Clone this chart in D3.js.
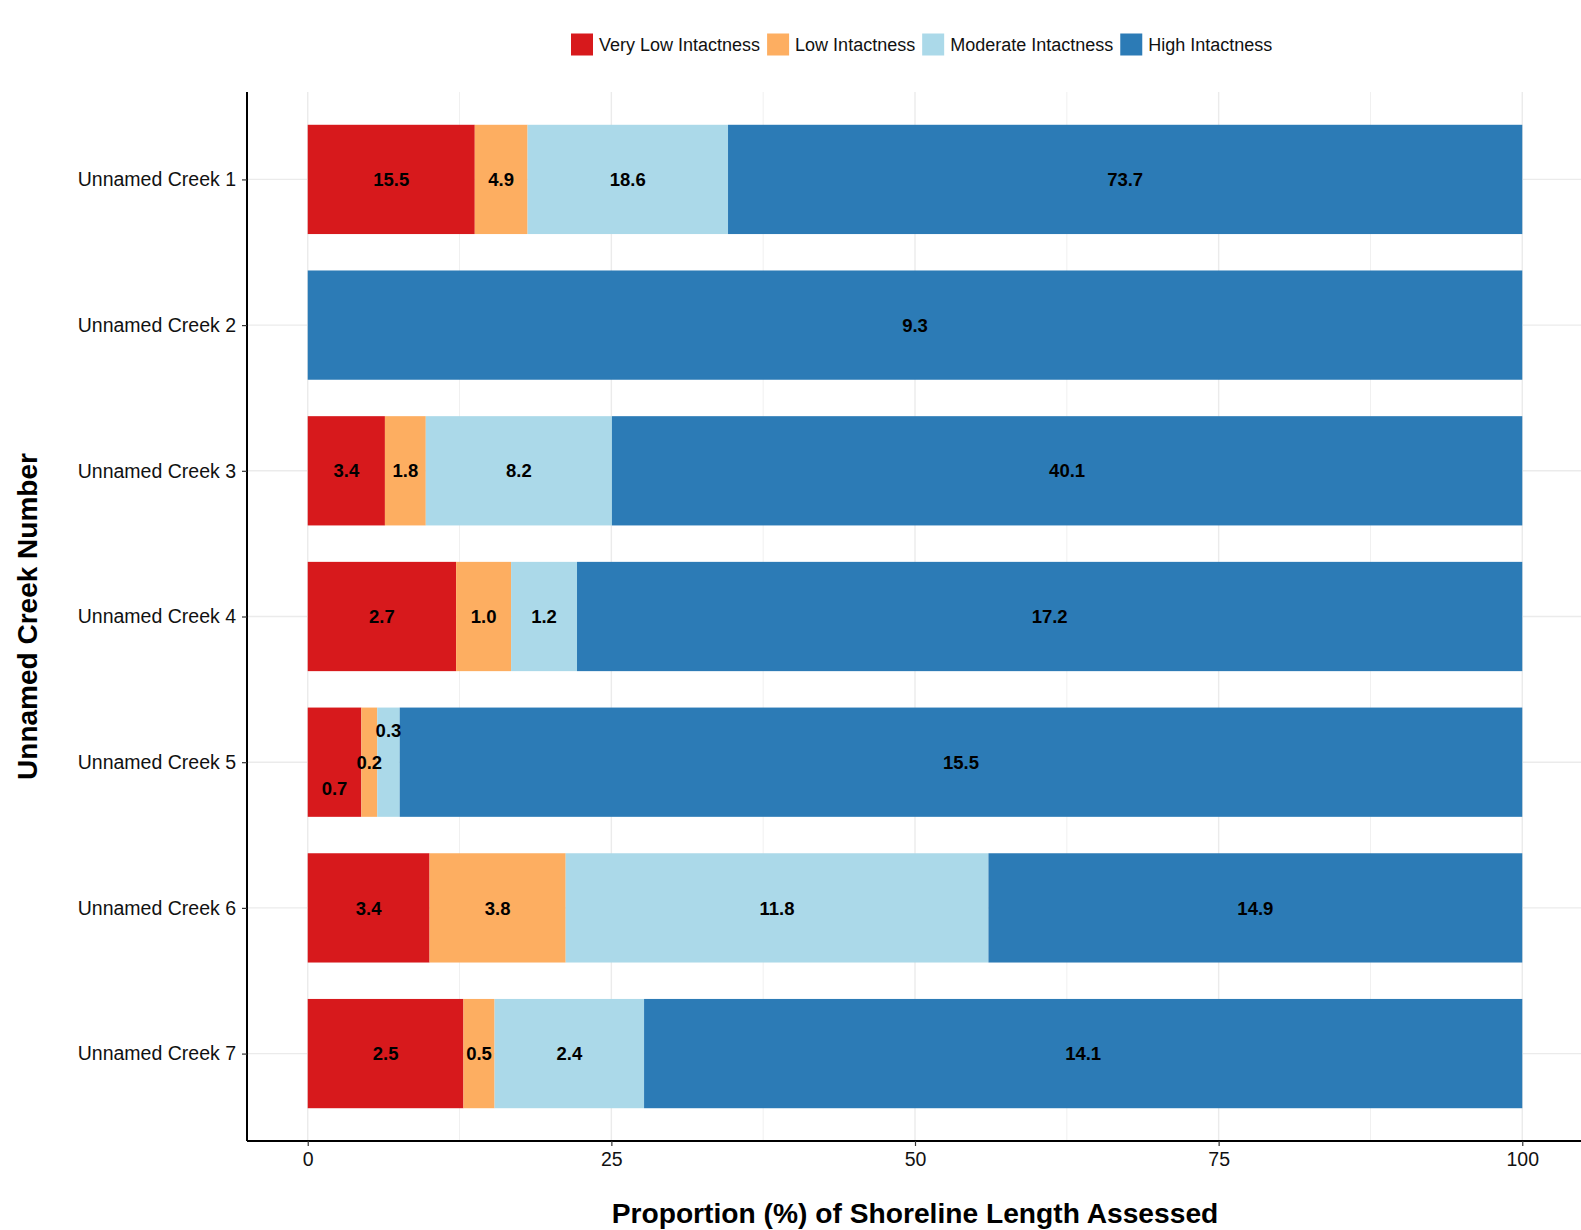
<!DOCTYPE html>
<html>
<head>
<meta charset="utf-8">
<script src="https://cdn.jsdelivr.net/npm/d3@7"></script>
<style>
  html, body { margin: 0; padding: 0; background: #fff; }
  svg text { font-family: "Liberation Sans", Arial, Helvetica, sans-serif; }
</style>
</head>
<body>
<script>
// ---- data ----
const creeks = ["Unnamed Creek 1", "Unnamed Creek 2", "Unnamed Creek 3", "Unnamed Creek 4",
                "Unnamed Creek 5", "Unnamed Creek 6", "Unnamed Creek 7"];
const categories = ["Very Low Intactness", "Low Intactness", "Moderate Intactness", "High Intactness"];
const veryLow  = [15.5, 0,   3.4, 2.7, 0.74, 3.4, 2.5];
const low      = [4.9,  0,   1.8, 1.0, 0.22, 3.8, 0.5];
const moderate = [18.6, 0,   8.2, 1.2, 0.31, 11.8, 2.4];
const high     = [73.7, 9.3, 40.1, 17.2, 15.5, 14.9, 14.1];
const xTicks = [0, 25, 50, 75, 100];
const xMinorTicks = [12.5, 37.5, 62.5, 87.5];
const colors = ["#d7191c", "#fdae61", "#abd9e9", "#2c7bb6"];

// label vertical nudges for crowded bar (style only)
const labelNudge = { "Unnamed Creek 5": [26, 0, -32, 0] };

// ---- layout ----
const W = 1581, H = 1230;
const panel = { left: 247, right: 1583, top: 92, bottom: 1141 };

const svg = d3.select("body").append("svg").attr("width", W).attr("height", H);

const x = d3.scaleLinear().domain([-5, 105]).range([panel.left, panel.right]);
const y = d3.scalePoint().domain(creeks).range([panel.top, panel.bottom]).padding(0.6);
const barH = y.step() * 0.75;

// table
const series = [veryLow, low, moderate, high];
const rows = creeks.map((c, i) => {
  const vals = series.map(s => s[i]);
  const tot = d3.sum(vals);
  let acc = 0;
  return vals.map((v, k) => {
    const p0 = acc / tot * 100; acc += v;
    const p1 = acc / tot * 100;
    return { creek: c, cat: k, value: v, p0, p1 };
  });
});

// grid
const grid = svg.append("g");
grid.selectAll("line.minor").data(xMinorTicks).join("line")
  .attr("x1", d => x(d)).attr("x2", d => x(d))
  .attr("y1", panel.top).attr("y2", panel.bottom)
  .attr("stroke", "#f0f0f0").attr("stroke-width", 1);
grid.selectAll("line.majx").data(xTicks).join("line")
  .attr("x1", d => x(d)).attr("x2", d => x(d))
  .attr("y1", panel.top).attr("y2", panel.bottom)
  .attr("stroke", "#ebebeb").attr("stroke-width", 1.4);
grid.selectAll("line.majy").data(creeks).join("line")
  .attr("x1", panel.left).attr("x2", panel.right)
  .attr("y1", d => y(d)).attr("y2", d => y(d))
  .attr("stroke", "#ebebeb").attr("stroke-width", 1.4);

// bars
const bars = svg.append("g");
rows.forEach(r => {
  bars.selectAll(null).data(r.filter(d => d.value > 0)).join("rect")
    .attr("x", d => x(d.p0))
    .attr("width", d => x(d.p1) - x(d.p0))
    .attr("y", d => y(d.creek) - barH / 2)
    .attr("height", barH)
    .attr("fill", d => colors[d.cat]);
});

// labels
const labels = svg.append("g");
rows.forEach(r => {
  labels.selectAll(null).data(r.filter(d => d.value > 0)).join("text")
    .attr("x", d => x((d.p0 + d.p1) / 2))
    .attr("y", d => y(d.creek) + (labelNudge[d.creek] ? labelNudge[d.creek][d.cat] : 0))
    .attr("dy", "0.36em")
    .attr("text-anchor", "middle")
    .attr("font-size", 18.5)
    .attr("font-weight", "bold")
    .attr("fill", "#000")
    .text(d => d.value.toFixed(1));
});

// axes
const xAxis = svg.append("g").attr("transform", `translate(0,${panel.bottom})`)
  .call(d3.axisBottom(x).tickValues(xTicks).tickSize(5).tickPadding(6).tickSizeOuter(0));
xAxis.select(".domain").attr("d", `M${panel.left},0H${W}`).attr("stroke", "#000").attr("stroke-width", 2);
xAxis.selectAll(".tick line").attr("stroke", "#333").attr("stroke-width", 1.2);
xAxis.selectAll(".tick text").attr("font-size", 19.5).attr("fill", "#111")
  .style("font-family", "'Liberation Sans', Arial, sans-serif");

const yAxis = svg.append("g").attr("transform", `translate(${panel.left},0)`)
  .call(d3.axisLeft(y).tickSize(5).tickPadding(6).tickSizeOuter(0));
yAxis.select(".domain").attr("d", `M0,${panel.top}V${panel.bottom}`).attr("stroke", "#000").attr("stroke-width", 2);
yAxis.selectAll(".tick line").attr("stroke", "#333").attr("stroke-width", 1.2);
yAxis.selectAll(".tick text").attr("font-size", 19.5).attr("fill", "#111")
  .style("font-family", "'Liberation Sans', Arial, sans-serif");

// axis titles
svg.append("text")
  .attr("x", (panel.left + panel.right) / 2).attr("y", 1223)
  .attr("text-anchor", "middle").attr("font-size", 28.2).attr("font-weight", "bold").attr("fill", "#000")
  .text("Proportion (%) of Shoreline Length Assessed");
svg.append("text")
  .attr("transform", `translate(37,${(panel.top + panel.bottom) / 2}) rotate(-90)`)
  .attr("text-anchor", "middle").attr("font-size", 28).attr("font-weight", "bold").attr("fill", "#000")
  .text("Unnamed Creek Number");

// legend
const legend = svg.append("g");
let lx = 571;
const ly = 44.5, sq = 22;
categories.forEach((c, i) => {
  legend.append("rect").attr("x", lx).attr("y", ly - sq / 2).attr("width", sq).attr("height", sq)
    .attr("fill", colors[i]);
  const t = legend.append("text").attr("x", lx + sq + 6).attr("y", ly).attr("dy", "0.35em")
    .attr("font-size", 18).attr("fill", "#111").text(c);
  lx += sq + 6 + t.node().getComputedTextLength() + 7;
});
</script>
</body>
</html>
